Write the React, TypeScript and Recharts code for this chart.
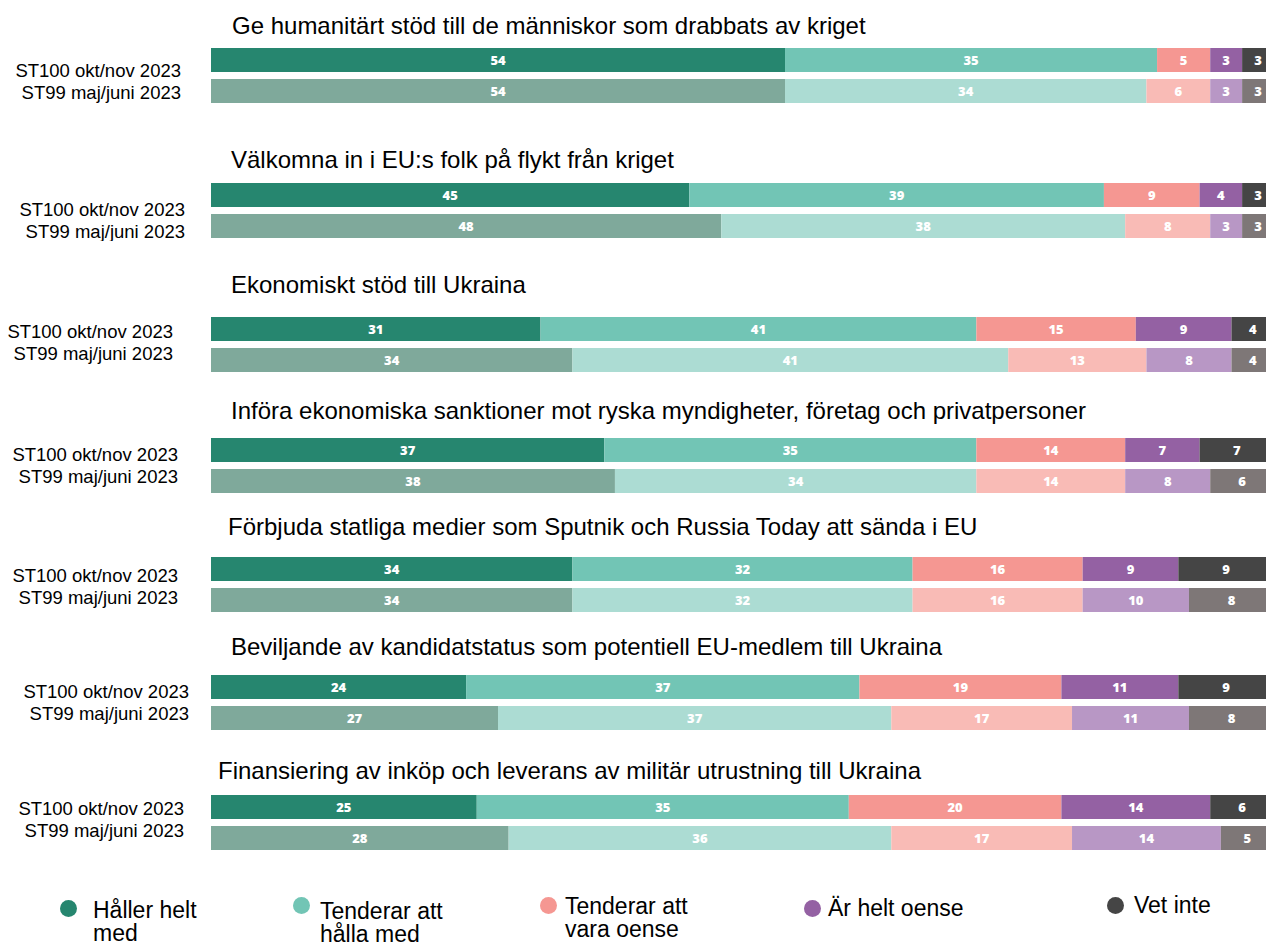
import { BarChart, Bar, XAxis, YAxis, Cell, LabelList } from 'recharts';

const titles = [
  'Ge humanitärt stöd till de människor som drabbats av kriget',
  'Välkomna in i EU:s folk på flykt från kriget',
  'Ekonomiskt stöd till Ukraina',
  'Införa ekonomiska sanktioner mot ryska myndigheter, företag och privatpersoner',
  'Förbjuda statliga medier som Sputnik och Russia Today att sända i EU',
  'Beviljande av kandidatstatus som potentiell EU-medlem till Ukraina',
  'Finansiering av inköp och leverans av militär utrustning till Ukraina',
];

const rows = ['ST100 okt/nov 2023', 'ST99 maj/juni 2023'];

const seriesNames = ['Håller helt med', 'Tenderar att hålla med', 'Tenderar att vara oense', 'Är helt oense', 'Vet inte'];

// [ST100, ST99] per question
const hallerHelt = [[54, 54], [45, 48], [31, 34], [37, 38], [34, 34], [24, 27], [25, 28]];
const tenderarHalla = [[35, 34], [39, 38], [41, 41], [35, 34], [32, 32], [37, 37], [35, 36]];
const tenderarOense = [[5, 6], [9, 8], [15, 13], [14, 14], [16, 16], [19, 17], [20, 17]];
const heltOense = [[3, 3], [4, 3], [9, 8], [7, 8], [9, 10], [11, 11], [14, 14]];
const vetInte = [[3, 3], [3, 3], [4, 4], [7, 6], [9, 8], [9, 8], [6, 5]];

const seriesValues = [hallerHelt, tenderarHalla, tenderarOense, heltOense, vetInte];

const darkColors = ['#26866f', '#72c5b5', '#f59792', '#9461a3', '#454545'];
const lightColors = ['#7fa99b', '#acdcd3', '#f9bbb6', '#b897c5', '#7e7777'];

// positions of each block on the page
const layout = [
  { titleX: 232, titleY: 26, barTop: 47, labelRight: 181, labelY: 70 },
  { titleX: 231, titleY: 160, barTop: 182, labelRight: 185, labelY: 209 },
  { titleX: 231, titleY: 285, barTop: 316, labelRight: 173, labelY: 331 },
  { titleX: 231, titleY: 411, barTop: 437, labelRight: 178, labelY: 454 },
  { titleX: 228, titleY: 527, barTop: 556, labelRight: 178, labelY: 575 },
  { titleX: 231, titleY: 647, barTop: 674, labelRight: 189, labelY: 691 },
  { titleX: 218, titleY: 771, barTop: 794, labelRight: 184, labelY: 808 },
];

const legendPos = [
  { cx: 68, cy: 908, tx: 93, ty: 911, w: 120 },
  { cx: 301, cy: 905, tx: 320, ty: 912, w: 140 },
  { cx: 548, cy: 905, tx: 565, ty: 907, w: 140 },
  { cx: 812, cy: 908, tx: 828, ty: 909, w: 200 },
  { cx: 1115, cy: 905, tx: 1134, ty: 906, w: 140 },
];

const FONT = 'Arial, "Liberation Sans", sans-serif';

function QuestionChart({ g }: { g: number }) {
  const pos = layout[g];
  const top = pos.barTop - 3.5;
  const data = rows.map((name, r) => {
    const d: any = { name };
    seriesValues.forEach((vals, i) => {
      d[`s${i}`] = vals[g][r];
    });
    return d;
  });

  const RowTick = (props: any) => {
    const { index, payload } = props;
    return (
      <text
        x={pos.labelRight}
        y={pos.labelY - top + index * 22}
        textAnchor="end"
        dominantBaseline="central"
        fontSize={18.5}
        fontFamily={FONT}
        fill="#000"
      >
        {payload.value}
      </text>
    );
  };

  return (
    <>
      <div
        style={{
          position: 'absolute',
          left: pos.titleX,
          top: pos.titleY - 14,
          height: 28,
          lineHeight: '28px',
          fontSize: 24,
          whiteSpace: 'nowrap',
        }}
      >
        {titles[g]}
      </div>
      <div style={{ position: 'absolute', left: 0, top }}>
        <BarChart
          width={1274}
          height={62}
          data={data}
          layout="vertical"
          margin={{ top: 0, right: 0, bottom: 0, left: 0 }}
          barCategoryGap={0}
        >
          <XAxis type="number" domain={[0, 100]} hide />
          <YAxis
            type="category"
            dataKey="name"
            width={211}
            axisLine={false}
            tickLine={false}
            interval={0}
            tick={RowTick}
          />
          {seriesNames.map((n, i) => (
            <Bar key={n} dataKey={`s${i}`} name={n} stackId="a" barSize={24} isAnimationActive={false}>
              {rows.map((r, ri) => (
                <Cell key={r} fill={ri === 0 ? darkColors[i] : lightColors[i]} />
              ))}
              <LabelList
                dataKey={`s${i}`}
                position="center"
                fill="#ffffff"
                fontSize={13}
                fontWeight={800}
                fontFamily='"Open Sans", sans-serif'
              />
            </Bar>
          ))}
        </BarChart>
      </div>
    </>
  );
}

export default function App() {
  return (
    <div
      style={{
        position: 'absolute',
        left: 0,
        top: 0,
        width: 1266,
        height: 946,
        overflow: 'hidden',
        background: '#fff',
        fontFamily: FONT,
        color: '#000',
      }}
    >
      {titles.map((t, g) => (
        <QuestionChart key={t} g={g} />
      ))}
      {seriesNames.map((n, i) => {
        const p = legendPos[i];
        return (
          <div key={n}>
            <div
              style={{
                position: 'absolute',
                left: p.cx - 8.5,
                top: p.cy - 8.5,
                width: 17,
                height: 17,
                borderRadius: '50%',
                background: darkColors[i],
              }}
            />
            <div
              style={{
                position: 'absolute',
                left: p.tx,
                top: p.ty - 12.5,
                width: p.w,
                fontSize: 23,
                lineHeight: '23px',
              }}
            >
              {n}
            </div>
          </div>
        );
      })}
    </div>
  );
}
